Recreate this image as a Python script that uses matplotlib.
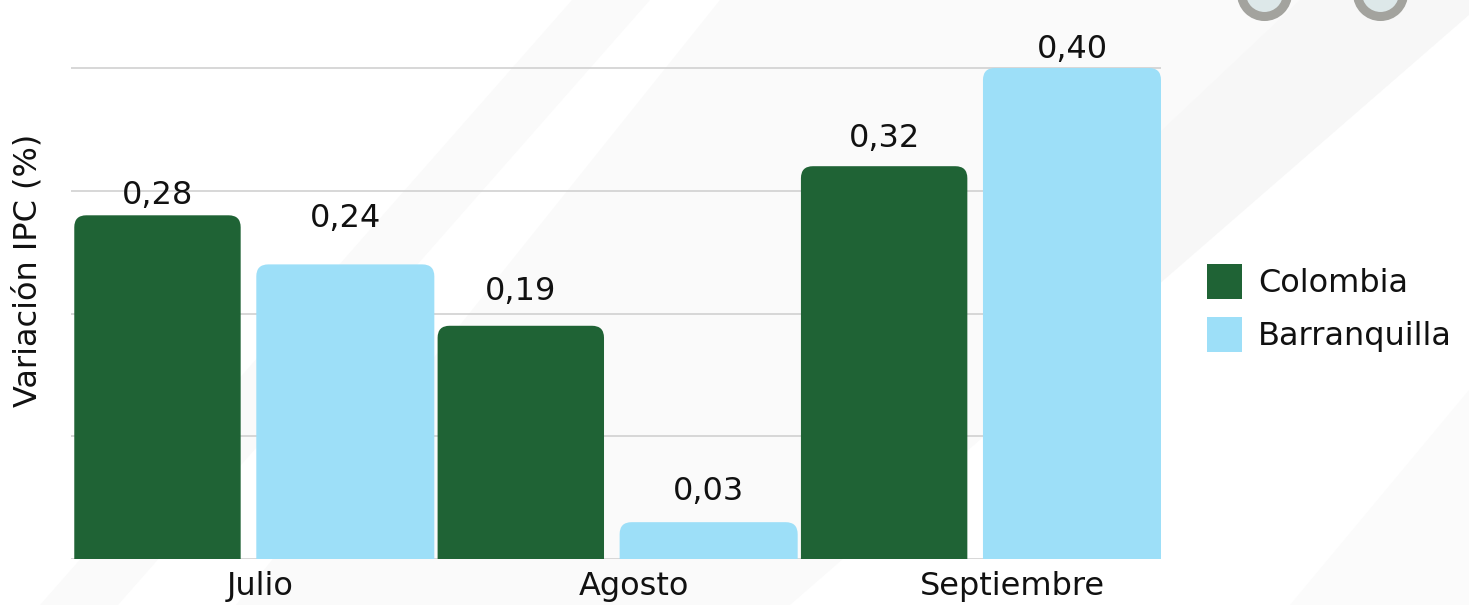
import matplotlib
matplotlib.use("Agg")
import matplotlib.pyplot as plt
from matplotlib.path import Path
from matplotlib.patches import PathPatch, Polygon, Circle, Patch
from matplotlib.transforms import IdentityTransform
import numpy as np

# ---------------- data ----------------
categories = ["Julio", "Agosto", "Septiembre"]
series_names = ["Colombia", "Barranquilla"]
colombia = [0.28, 0.19, 0.32]
barranquilla = [0.24, 0.03, 0.40]
value_labels_col = ["0,28", "0,19", "0,32"]
value_labels_bar = ["0,24", "0,03", "0,40"]
yticks = [0.0, 0.1, 0.2, 0.3, 0.4]
ylabel = "Variación IPC (%)"

# ---------------- style ----------------
W, H = 1469, 605
GREEN = "#1f6335"
BLUE = "#9ddff8"
GRID = "#d4d4d4"
FONT = "DejaVu Sans"
FS = 23
plt.rcParams["font.family"] = [FONT]
gap_col_px = [11, 26, 19]
gap_bar_px = [37, 22, 10]

fig = plt.figure(figsize=(W / 100, H / 100), dpi=100)
fig.patch.set_facecolor("white")

# faint diagonal background bands (pixel coords, y from top)
def band(pts, color):
    poly = Polygon([(x, H - y) for x, y in pts], closed=True,
                   transform=IdentityTransform(), facecolor=color,
                   edgecolor="none", zorder=-5)
    fig.add_artist(poly)

band([(572, 0), (650, 0), (118, 605), (40, 605)], "#fafafa")
band([(720, 0), (1486, 0), (790, 605), (236, 605)], "#fafafa")
band([(1300, 0), (1486, 0), (1160, 283), (1000, 283)], "#f7f7f7")
band([(1469, 390), (1469, 605), (1290, 605)], "#fbfbfb")

# axes
y_unit = 122.75  # px per 0.1
ax_top_val = 0.45
ax_h = ax_top_val / 0.1 * y_unit
ax = fig.add_axes([71 / W, (H - 559) / H, (1161 - 71) / W, ax_h / H])
ax.set_facecolor("none")
ax.set_xlim(-0.5, 2.5)
ax.set_ylim(0, ax_top_val)
for s in ax.spines.values():
    s.set_visible(False)
ax.set_yticks(yticks)
ax.set_yticklabels([])
ax.tick_params(axis="y", length=0)
ax.grid(axis="y", color=GRID, linewidth=1.3, zorder=0)
ax.set_axisbelow(True)

x = np.arange(len(categories))
off_col = 0.262
off_bar = 0.255
w_col = 0.458
w_bar = 0.49

b1 = ax.bar(x - off_col, colombia, w_col, color=GREEN, zorder=2, label=series_names[0])
b2 = ax.bar(x + off_bar, barranquilla, w_bar, color=BLUE, zorder=2, label=series_names[1])

# replace bars with rounded-top versions
px_per_x = (1161 - 71) / 3.0
px_per_y = y_unit / 0.1
r_px = 12
rx = r_px / px_per_x
ry = r_px / px_per_y

def rounded(rect):
    x0 = rect.get_x(); x1 = x0 + rect.get_width()
    y0 = rect.get_y(); y1 = y0 + rect.get_height()
    verts = [(x0, y0), (x0, y1 - ry), (x0, y1), (x0 + rx, y1),
             (x1 - rx, y1), (x1, y1), (x1, y1 - ry), (x1, y0), (x0, y0)]
    codes = [Path.MOVETO, Path.LINETO, Path.CURVE3, Path.CURVE3,
             Path.LINETO, Path.CURVE3, Path.CURVE3, Path.LINETO, Path.CLOSEPOLY]
    pp = PathPatch(Path(verts, codes), facecolor=rect.get_facecolor(),
                   edgecolor="none", zorder=2)
    ax.add_patch(pp)
    rect.set_visible(False)

for r in list(b1) + list(b2):
    rounded(r)

# value labels
for bars, labs, gaps in ((b1, value_labels_col, gap_col_px),
                         (b2, value_labels_bar, gap_bar_px)):
    for rect, lab, g in zip(bars, labs, gaps):
        ax.annotate(lab, (rect.get_x() + rect.get_width() / 2, rect.get_height()),
                    xytext=(0, g * 0.72), textcoords="offset points", ha="center",
                    va="baseline", fontsize=FS, color="#111111",
                    annotation_clip=False)

# x ticks
tick_nudge = [0.02, 0.05, 0.09]
ax.set_xticks(x + np.array(tick_nudge))
ax.set_xticklabels(categories, fontsize=FS, color="#111111")
ax.tick_params(axis="x", length=0, pad=9)

ax.set_ylabel(ylabel, fontsize=FS, color="#111111")
ax.yaxis.set_label_coords(-27 / 1090, (559 - 270) / ax_h)

# legend
handles = [Patch(facecolor=GREEN, edgecolor="none"),
           Patch(facecolor=BLUE, edgecolor="none")]
leg = fig.legend(handles, series_names, loc="center left",
                 bbox_to_anchor=(1207 / W, 1 - 308 / H), frameon=False,
                 fontsize=FS, handlelength=1.1, handleheight=1.3,
                 handletextpad=0.5, labelspacing=0.55, borderpad=0,
                 borderaxespad=0)
for t in leg.get_texts():
    t.set_color("#111111")

# decorative rings at top right
for cx in (1264.5, 1380.5):
    c = Circle((cx, H + 6.5), 23, transform=IdentityTransform(),
               facecolor="#dde8e9", edgecolor="#a3a39e", linewidth=6.5,
               zorder=5, clip_on=False)
    fig.add_artist(c)

fig.savefig("out.png", dpi=100)
